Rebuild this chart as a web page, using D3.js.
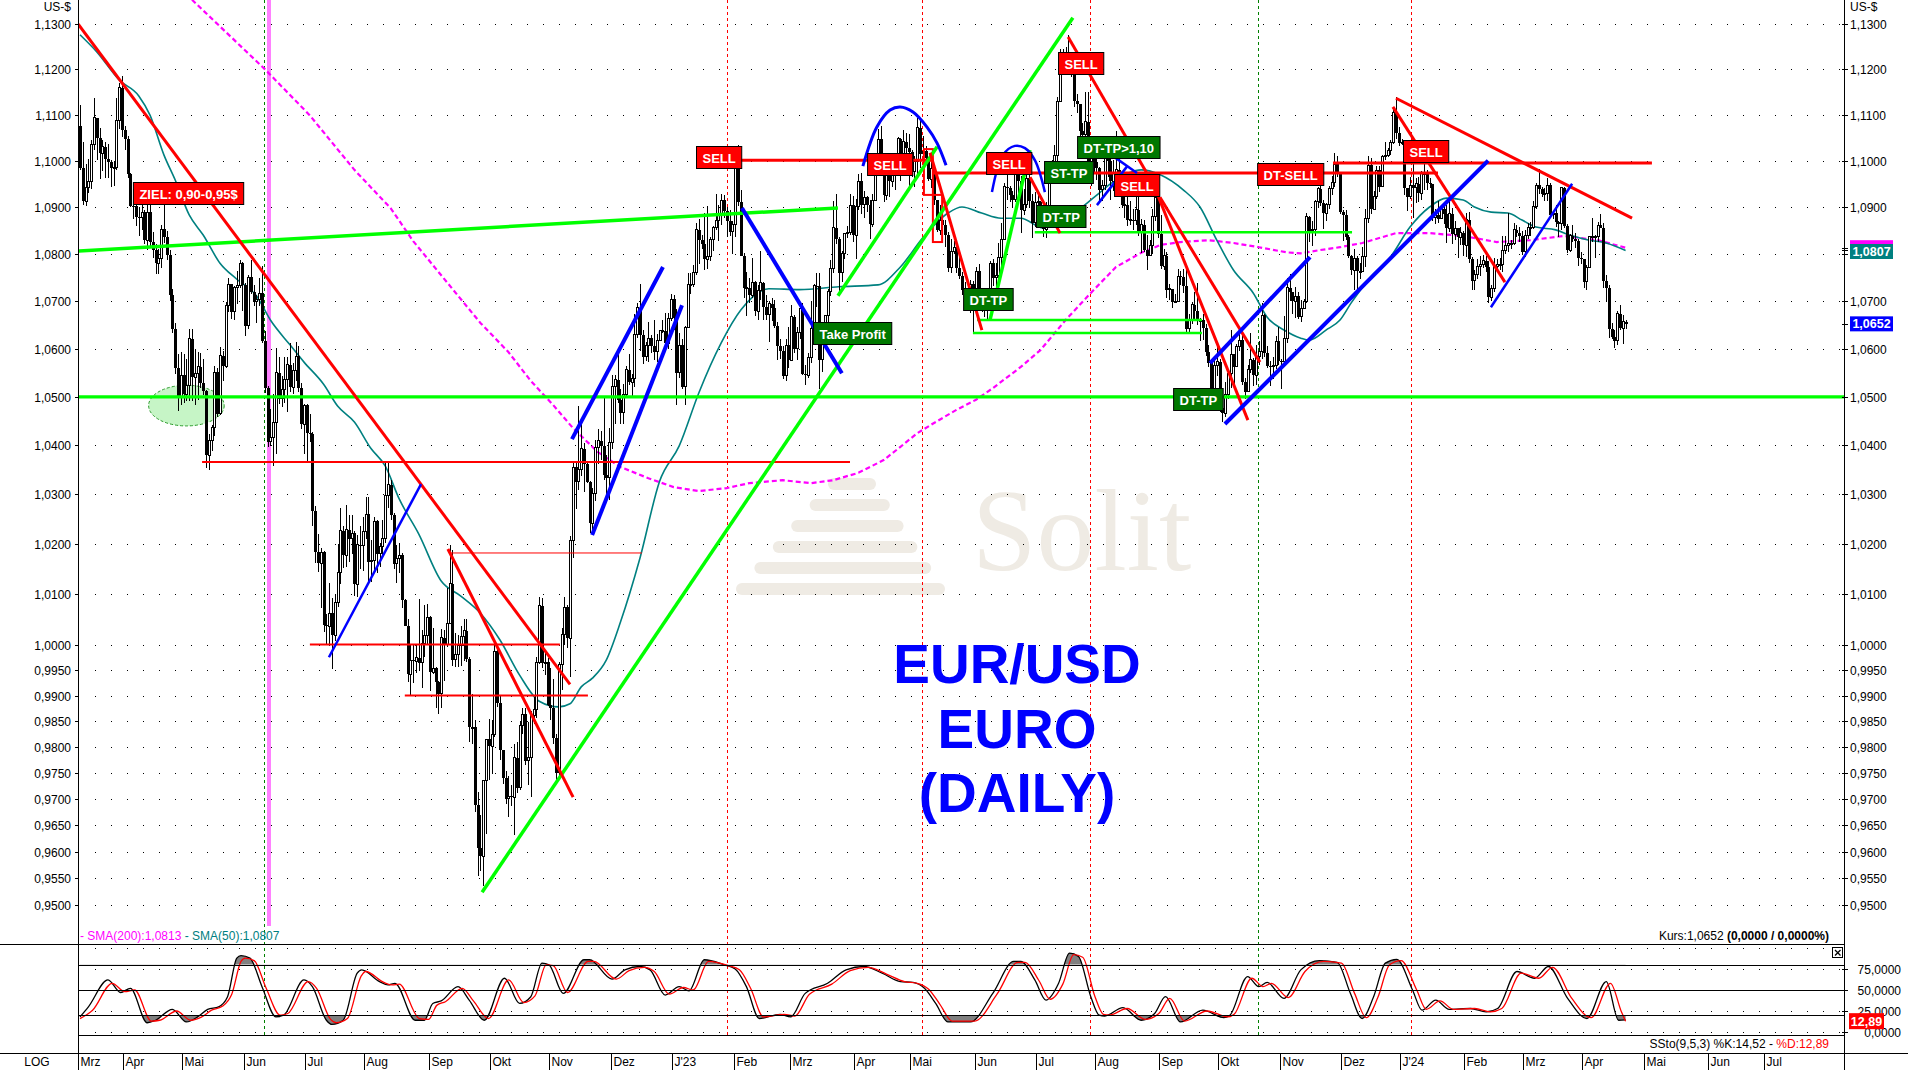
<!DOCTYPE html>
<html><head><meta charset="utf-8">
<script src="https://cdn.jsdelivr.net/npm/d3@7"></script>
<style>
html,body{margin:0;padding:0;background:#fff;overflow:hidden;}
svg{display:block;font-family:"Liberation Sans",Arial,sans-serif;}
</style></head><body>
<svg id="c" width="1908" height="1070"></svg>
<script>
// ---------------- DATA ----------------
// trading-day index 0 = 10 Mar 2022; prices in 1/10000 US-$
const firstOpen = 11075;
const closePips = [
10983,10912,10943,10955,11034,11093,11050,11016,11030,11003,10997,10984,10985,11087,11159,11067,
11046,10972,10903,10902,10878,10877,10889,10829,10889,10825,10808,10780,10790,10852,10836,10798,10713,10641,10560,10498,10545,
10505,10523,10621,10541,10548,10562,10529,10512,10380,10410,10436,10551,10465,10585,10563,10690,10735,10677,10728,10733,10780,10734,
10648,10750,10720,10698,10704,10716,10616,10518,10408,10417,10447,10550,10496,10515,10536,10567,10520,10554,10584,10519,10443,10483,
10426,10424,10266,10183,10161,10183,10038,10036,10062,10018,10084,10143,10227,10177,10229,10211,10222,10119,10199,10197,10225,
10260,10164,10167,10246,10180,10196,10212,10297,10320,10259,10160,10170,10177,10088,10037,9942,9969,9967,9974,9964,10002,10017,10054,
9946,9953,9927,9904,10013,10000,10042,10120,9970,9980,9998,10015,10027,9971,9838,9838,9689,9607,9592,9736,9815,9802,
9825,9987,9885,9794,9740,9701,9706,9704,9780,9722,9842,9864,9774,9780,9861,9873,9965,10077,9963,9965,9881,
9876,9818,9751,9961,10020,10074,10012,10208,10355,10326,10350,10393,10362,10325,10242,10302,10396,10410,10399,10339,10334,10406,
10522,10535,10493,10467,10505,10556,10530,10538,10630,10686,10628,10583,10606,10622,10605,10594,10617,10638,10638,10611,10663,10704,
10665,10550,10607,10521,10644,10734,10734,10760,10851,10830,10821,10788,10794,10830,10857,10870,10885,10915,10891,10869,10847,10863,
10990,10911,10796,10727,10728,10712,10740,10678,10723,10739,10688,10671,10694,10686,10648,10605,10595,10544,10607,10576,
10667,10600,10634,10684,10547,10545,10581,10642,10732,10731,10577,10610,10670,10720,10768,10855,10832,10760,10800,10844,10845,10904,10840,
10901,10955,10905,10921,10905,10863,10913,10993,11046,10990,10925,10973,10955,10967,10990,11047,10973,11041,11027,11018,
10977,10999,11071,11015,11020,11006,10960,10982,10914,10850,10872,10862,10840,10770,10805,10814,10770,10752,10724,10722,10705,10735,10689,
10763,10708,10713,10693,10698,10780,10749,10753,10792,10830,10944,10940,10925,10916,10979,10955,10893,10905,10962,10912,10866,10909,
10911,10881,10852,10888,10968,10998,11011,11129,11225,11229,11235,11227,11201,11129,11124,11065,11056,11085,10978,11016,10996,
10985,10937,10946,11007,11000,10955,10972,10980,10948,10905,10905,10873,10873,10870,10894,10845,10862,10809,10796,10817,10880,10921,10842,
10774,10796,10724,10726,10698,10700,10752,10751,10732,10642,10660,10692,10678,10660,10660,10644,10594,10571,10500,10565,10573,
10477,10466,10505,10548,10588,10562,10604,10618,10530,10510,10557,10577,10545,10584,10594,10670,10590,10564,10562,10565,10616,10575,
10573,10621,10728,10720,10699,10710,10667,10685,10700,10879,10849,10852,10912,10939,10909,10887,10905,10940,10953,10992,10970,10889,
10883,10836,10795,10765,10790,10763,10763,10794,10875,10990,10895,10922,10979,10944,11008,11012,11023,11040,11105,11060,11038,
11040,10940,10922,10947,10941,10950,10930,10972,10973,10951,10950,10877,10883,10875,10896,10886,10854,10885,10842,10854,10835,10845,10818,
10873,10788,10743,10755,10773,10777,10785,10772,10708,10727,10773,10777,10778,10807,10818,10822,10822,10851,10845,10838,10804,
10838,10855,10856,10900,10947,10938,10927,10928,10947,10883,10887,10867,10864,10941,10859,10808,10838,10831,10828,10790,10788,
10741,10770,10836,10836,10837,10861,10855,10742,10727,10642,10625,10617,10673,10643,10656,10652];
const highPips = [
11121,11041,10993,11003,11045,11137,11076,11070,11044,11041,11035,11001,11000,11137,11170,11185,
11076,11053,10974,10938,10922,10900,10917,10894,10904,10923,10846,10820,10811,10862,10937,10849,10808,10725,10654,10589,10593,
10588,10578,10642,10642,10599,10594,10592,10579,10515,10423,10441,10564,10559,10603,10596,10697,10748,10736,10731,10764,10787,10783,
10737,10755,10786,10733,10713,10748,10773,10638,10523,10474,10506,10601,10582,10543,10583,10582,10612,10570,10615,10606,10528,10486,
10485,10464,10427,10276,10221,10191,10186,10060,10122,10092,10100,10201,10273,10237,10278,10258,10259,10226,10218,10236,10254,
10294,10294,10209,10254,10248,10203,10248,10368,10365,10330,10262,10199,10202,10182,10091,10050,9999,10001,10000,10091,10028,10078,10080,
10057,10033,9955,9929,10030,10029,10112,10198,10187,10022,10018,10036,10051,10050,9976,9904,9853,9713,9670,9737,9815,9854,
9852,9999,10000,9900,9795,9755,9745,9727,9807,9809,9850,9876,9875,9849,9870,9897,9975,10094,10093,9984,9974,
9954,9932,9826,9966,10033,10094,10078,10216,10364,10364,10481,10454,10405,10367,10328,10314,10411,10434,10429,10497,10381,10436,
10546,10545,10594,10517,10527,10564,10588,10547,10673,10695,10736,10640,10613,10656,10629,10660,10630,10640,10660,10674,10674,10714,
10712,10683,10633,10620,10647,10760,10760,10777,10866,10874,10840,10887,10903,10835,10859,10927,10905,10929,10926,10900,10893,10870,
10993,11033,10936,10801,10761,10749,10791,10743,10734,10805,10741,10713,10700,10707,10702,10655,10621,10605,10621,10646,
10692,10671,10645,10694,10696,10567,10591,10699,10736,10760,10759,10635,10670,10726,10787,10912,10929,10836,10806,10845,10860,10927,10923,
10917,10972,10973,10934,10923,10914,10927,10998,11068,11075,10999,10980,10995,10977,10995,11052,11050,11066,11060,11057,
11022,11010,11092,11091,11054,11031,11006,11010,10990,10916,10904,10895,10872,10846,10831,10827,10818,10796,10761,10741,10726,10744,10742,
10772,10779,10723,10710,10718,10785,10788,10780,10823,10865,10951,10970,10945,10934,10999,11012,10966,10938,10976,10974,10927,10932,
10935,10913,10903,10911,10976,11001,11034,11139,11245,11244,11248,11276,11229,11206,11146,11112,11081,11150,11149,11043,11043,
11008,10987,10959,11042,11017,11003,11002,11065,11011,10950,10939,10930,10912,10895,10928,10929,10875,10872,10840,10830,10895,10945,10922,
10882,10811,10803,10735,10723,10715,10767,10763,10768,10768,10672,10697,10718,10737,10665,10673,10652,10608,10574,10585,10609,
10578,10487,10531,10548,10639,10582,10610,10640,10637,10540,10566,10632,10580,10608,10616,10695,10673,10606,10574,10583,10627,10646,
10578,10669,10748,10757,10720,10730,10719,10703,10705,10888,10880,10870,10916,10944,10962,10915,10909,10945,10966,11017,11009,10975,
10893,10894,10840,10797,10811,10795,10780,10814,10895,11009,11005,10935,10989,10988,11013,11040,11028,11044,11113,11139,11072,
11046,11045,10939,10964,10998,10963,10964,10978,11006,10980,10963,10950,10895,10913,10904,10903,10905,10931,10898,10871,10855,10857,10848,
10887,10889,10793,10765,10789,10795,10798,10795,10785,10734,10790,10788,10790,10838,10838,10888,10830,10866,10861,10857,10848,
10850,10866,10868,10913,10951,10981,10943,10940,10963,10952,10892,10905,10869,10942,10942,10863,10842,10862,10845,10831,10803,
10789,10777,10838,10876,10841,10868,10885,10865,10755,10734,10653,10639,10678,10691,10671,10660];
const lowPips = [
10980,10905,10903,10931,10938,11024,11001,10961,10978,10963,10962,10944,10945,10980,11068,11052,
11024,10963,10899,10875,10860,10838,10850,10820,10808,10816,10790,10757,10757,10770,10823,10787,10701,10632,10548,10471,10484,
10488,10492,10491,10492,10484,10493,10518,10503,10354,10350,10389,10420,10459,10463,10533,10560,10676,10662,10660,10694,10727,10680,
10627,10642,10715,10689,10654,10689,10612,10507,10397,10398,10358,10382,10486,10479,10488,10469,10510,10505,10533,10510,10434,10383,
10366,10408,10236,10162,10143,10072,10025,9999,9998,9952,10007,10075,10119,10152,10153,10164,10180,10097,10095,10150,10145,
10211,10123,10123,10148,10142,10154,10172,10202,10272,10249,10150,10122,10142,10072,10036,9927,9899,9925,9945,9949,9914,9975,10002,
9909,9943,9876,9864,9876,9929,9995,10052,9958,9955,9956,9958,9968,9965,9810,9807,9675,9554,9564,9536,9633,9737,
9748,9819,9877,9775,9730,9690,9667,9688,9631,9712,9718,9826,9765,9727,9705,9844,9857,9961,9953,9941,9880,
9853,9806,9730,9744,9910,10000,9993,9936,10171,10271,10310,10337,10306,10324,10223,10223,10287,10361,10371,10330,10290,10289,
10392,10444,10488,10443,10444,10500,10525,10497,10521,10622,10595,10568,10574,10573,10590,10577,10572,10625,10633,10610,10600,10657,
10640,10483,10540,10516,10484,10644,10715,10729,10754,10778,10811,10765,10768,10784,10805,10851,10827,10862,10877,10835,10837,10800,
10835,10903,10795,10706,10669,10696,10706,10668,10661,10702,10660,10660,10613,10659,10643,10577,10578,10536,10533,10560,
10575,10590,10577,10621,10546,10524,10539,10570,10659,10687,10516,10551,10608,10636,10710,10760,10820,10714,10741,10789,10833,10839,10826,
10788,10893,10886,10877,10889,10831,10858,10913,10993,10969,10910,10916,10922,10944,10936,10982,10957,10966,10998,10946,
10965,10944,10970,10985,10967,10995,10955,10940,10904,10846,10840,10851,10814,10761,10760,10800,10759,10747,10712,10700,10714,10674,10635,
10684,10694,10676,10667,10663,10690,10732,10724,10747,10771,10832,10915,10911,10897,10910,10930,10844,10883,10897,10898,10834,10857,
10888,10866,10835,10833,10883,10955,10962,10991,11128,11197,11199,11211,11182,11117,11104,11024,11041,11046,10976,10945,10970,
10959,10913,10912,10937,10965,10914,10935,10961,10927,10897,10876,10860,10862,10851,10861,10838,10802,10804,10765,10802,10800,10869,10834,
10767,10765,10707,10703,10686,10697,10713,10733,10716,10632,10632,10652,10660,10650,10617,10618,10585,10561,10488,10495,10544,
10469,10448,10459,10496,10518,10516,10563,10595,10524,10496,10525,10550,10523,10524,10567,10578,10582,10560,10522,10536,10557,10565,
10517,10568,10612,10700,10672,10665,10662,10655,10686,10695,10826,10817,10837,10897,10903,10852,10870,10896,10925,10943,10965,10885,
10827,10830,10790,10754,10724,10724,10747,10766,10771,10865,10885,10902,10918,10933,10942,11002,11007,11012,11035,11046,11032,
11034,10925,10892,10918,10876,10909,10911,10916,10937,10937,10940,10869,10863,10865,10874,10863,10822,10847,10821,10829,10792,10819,10795,
10793,10781,10723,10723,10746,10752,10770,10762,10695,10699,10718,10762,10765,10761,10799,10804,10810,10818,10835,10825,10797,
10793,10832,10838,10853,10895,10928,10921,10912,10912,10880,10875,10857,10836,10850,10854,10801,10803,10826,10812,10775,10778,
10728,10724,10769,10826,10792,10826,10854,10728,10698,10622,10620,10601,10608,10639,10610,10642];

// month axis: label and trading-day index of first day
const monthNames = ["Mrz","Apr","Mai","Jun","Jul","Aug","Sep","Okt","Nov","Dez","J'23","Feb","Mrz","Apr","Mai","Jun","Jul","Aug","Sep","Okt","Nov","Dez","J'24","Feb","Mrz","Apr","Mai","Jun","Jul"];
const monthStart = [0,16,37,59,81,102,125,147,168,190,212,234,254,277,297,320,342,363,386,407,429,451,472,495,516,537,559,582,602];

// price axis ticks
const priceTicks = [0.95,0.955,0.96,0.965,0.97,0.975,0.98,0.985,0.99,0.995,1.0,1.01,1.02,1.03,1.04,1.05,1.06,1.07,1.08,1.09,1.10,1.11,1.12,1.13];
const stochTicks = [0,25,50,75];
const stochLevels = [80,50,20];

// moving averages: [day index, price]
const sma50 = [[0,1.1276],[6,1.1238],[14,1.1176],[21,1.1141],[25,1.1099],[30,1.1012],[34,1.0958],[39,1.0883],[44,1.0840],[50,1.0780],[56,1.0746],[63,1.0711],[68,1.0660],[75,1.0608],[80,1.0572],[87,1.0526],[92,1.0481],[98,1.0448],[104,1.0393],[109,1.0358],[114,1.0291],[121,1.0220],[129,1.0126],[136,1.0096],[143,1.0062],[150,1.0009],[157,0.9940],[164,0.9889],[171,0.9878],[175,0.9884],[179,0.9917],[183,0.9934],[188,0.9970],[193,1.0044],[200,1.0172],[207,1.0327],[214,1.0399],[221,1.0508],[229,1.0612],[236,1.0681],[246,1.0726],[257,1.0724],[271,1.0730],[285,1.0734],[293,1.0772],[301,1.0834],[310,1.0887],[315,1.0900],[322,1.0887],[329,1.0876],[336,1.0876],[344,1.0855],[351,1.0870],[358,1.0900],[364,1.0930],[369,1.0954],[379,1.0980],[386,1.0969],[394,1.0937],[400,1.0900],[406,1.0829],[412,1.0765],[419,1.0717],[424,1.0666],[430,1.0639],[436,1.0622],[439,1.0618],[445,1.0639],[450,1.0660],[454,1.0696],[461,1.0751],[468,1.0793],[475,1.0857],[482,1.0900],[488,1.0919],[494,1.0915],[498,1.0900],[504,1.0889],[510,1.0887],[515,1.0872],[520,1.0857],[527,1.0851],[532,1.0840],[539,1.0829],[545,1.0823],[552,1.0807]];
const sma200 = [[40,1.1354],[66,1.1200],[82,1.1099],[98,1.0980],[111,1.0897],[119,1.0827],[131,1.0740],[143,1.0654],[153,1.0593],[161,1.0533],[169,1.0483],[176,1.0436],[185,1.0386],[193,1.0356],[203,1.0333],[212,1.0315],[221,1.0307],[231,1.0313],[239,1.0323],[251,1.0329],[261,1.0323],[269,1.0329],[278,1.0344],[287,1.0370],[293,1.0397],[299,1.0425],[305,1.0446],[313,1.0473],[320,1.0494],[326,1.0518],[336,1.0562],[343,1.0597],[352,1.0660],[361,1.0717],[370,1.0772],[379,1.0802],[386,1.0819],[393,1.0825],[403,1.0829],[412,1.0823],[421,1.0814],[431,1.0803],[436,1.0801],[443,1.0808],[450,1.0814],[458,1.0823],[470,1.0844],[482,1.0844],[494,1.0838],[506,1.0825],[518,1.0829],[530,1.0838],[542,1.0829],[552,1.0813]];

// slow stochastic (9,5,3): [day index, value]
const stochK = [[0,18],[3,30],[10,62],[14.5,47],[18,52],[24,11],[27,14],[33,27],[38,12],[42,18],[45.6,27],[49.5,30],[52.7,42],[56,88],[57.5,91],[60.7,88],[65,54],[70,18],[72.7,20],[80,62],[83,54],[88,14],[90,9],[94,14],[99,70],[100.6,74],[107,60],[110,56],[112.5,58],[119.7,14],[123,14],[126,34],[129,37],[135,54],[139,38],[144.4,14],[151.6,64],[157,34],[161,42],[165,82],[167.5,80],[172.6,46],[180,86],[182,86],[190,63],[194.6,74],[200,78],[203.6,74],[209,44],[214,54],[217.5,49],[223,86],[230,80],[234,75],[238,54],[242.6,16],[250,21],[253.8,18],[259,46],[267,58],[273.6,74],[280,78],[286.5,70],[293,60],[297.5,59],[301.6,52],[305.6,34],[310,12],[318,12],[326,46],[333.5,84],[336,84],[341,62],[345,38],[349.5,58],[353.4,94],[356.6,90],[361,42],[364,20],[366,19],[372.5,29],[379,14],[383.8,22],[387.7,42],[393,12],[401,26],[408.5,17],[410.7,20],[417,66],[421,54],[424,59],[430,40],[436,74],[442.7,85],[449,83],[453.7,46],[457.9,16],[462,42],[466.2,82],[470.3,86.5],[475.9,50],[479.3,26],[484.2,38],[489,27],[496.6,28],[502.2,24],[506.3,28],[513.2,72],[519.5,64],[524.4,78],[531.3,40],[538.2,16],[545.1,60],[549.5,14],[552,14.52]];
const stochD = [[0,16],[4.5,26],[11.5,58],[16,48],[19.5,50],[25.5,13],[28.5,14],[34.5,25],[39.5,14],[43.5,18],[47,26],[51,31],[54.2,45],[57.5,84],[59,88],[62.2,85],[66.5,52],[71.5,20],[74.2,22],[81.5,60],[84.5,52],[89.5,15],[91.5,11],[95.5,16],[100.5,67],[102,72],[108.5,59],[111.5,56],[114,57],[121.2,16],[124.5,15],[127.5,32],[130.5,36],[136.5,52],[140.5,37],[145.9,16],[153.1,62],[158.5,35],[162.5,43],[166.5,80],[169,79],[174.1,47],[181.5,84],[183.5,84],[191.5,63],[196.1,73],[201.5,77],[205.1,72],[210.5,45],[215.5,53],[219,50],[224.5,84],[231.5,79],[235.5,74],[239.5,52],[244.1,18],[251.5,21],[255.3,19],[260.5,45],[268.5,57],[275.1,73],[281.5,77],[288,69],[294.5,60],[299,58],[303.1,51],[307.1,33],[311.5,13],[319.5,13],[327.5,45],[335,83],[337.5,83],[342.5,61],[346.5,39],[351,57],[354.9,92],[358.1,89],[362.5,42],[365.5,21],[367.5,20],[374,28],[380.5,15],[385.3,22],[389.2,40],[394.5,13],[402.5,25],[410,18],[412.2,21],[418.5,64],[422.5,54],[425.5,58],[431.5,41],[437.5,72],[444.2,84],[450.5,82],[455.2,46],[459.4,17],[463.5,41],[467.7,80],[471.8,85],[477.4,50],[480.8,27],[485.7,37],[490.5,27],[498.1,28],[503.7,24],[507.8,28],[514.7,70],[521,64],[525.9,77],[532.8,40],[539.7,17],[546.6,58],[550.5,24],[552,12.89]];

// analyst drawings, in chart units [dayIndex, price]
const redTrendlines = [[-0.7,1.1300,175,0.9922],[131.4,1.0190,176.1,0.9704],[303.6,1.1017,322.1,1.0639],[339.3,1.0964,350,1.0844],[352.9,1.1271,381.4,1.0969],[384.6,1.0930,417.1,1.0452],[385.7,1.0921,421.4,1.0572],[470,1.1136,554.3,1.0876],[468.9,1.1117,508.9,1.0740]];
const redLevels = [[236.1,304.6,1.1001],[304.6,485,1.0973],[447.5,561.4,1.0995]];
const redThinLevels = [[43.6,275,1.0366],[82.1,171.4,1.0000],[116,181.4,0.9900]];
const redHairLevels = [[132,200.7,1.0182]];
const redBoxes = [[301.4,304.6,1.1025,1.0926],[304.6,307.9,1.0926,1.0825]];
const greenTrendlines = [[-0.7,1.0806,270.7,1.0898],[143.6,0.9524,354.6,1.1314],[270.7,1.0711,306.1,1.1030],[325,1.0660,339.3,1.1023]];
const greenLevels = [[320.4,400.7,1.0660],[318.9,400.7,1.0633],[341,454.3,1.0846]];
const supportLevel = 1.05;
const blueThick = [[175.7,1.0413,208.2,1.0772],[182.9,1.0218,215,1.0691],[236.4,1.0898,272.1,1.0549],[403.6,1.0570,439.3,1.0793],[408.9,1.0444,502.9,1.1000]];
const blueThin = [[88.9,0.9975,121.8,1.0321],[360.7,1.1045,377.5,1.0973],[363.2,1.0904,373.9,1.0987],[503.9,1.0687,532.9,1.0950]];
const blueArcs = [
  [[279.6,1.0988],[284.6,1.1073],[289.3,1.1110],[292.9,1.1117],[297.5,1.1106],[302.5,1.1073],[306.1,1.1038],[309.3,1.0990]],
  [[325.7,1.0932],[329.6,1.1012],[333.9,1.1032],[337.5,1.1027],[341.1,1.1000],[344.6,1.0932]]
];
const supportZone = {i:38, p:1.0483, halfDays:13.5, pTop:1.0524, pBottom:1.0440};
const redMarkers = [231.1,300.7,360.7,475.4];
const greenMarkers = [65.7,420.7];
const magentaMarker = 67.5;

// signal boxes: [text, day index of left edge, price of top edge]
const sellSignals = [["ZIEL: 0,90-0,95$",18.9,1.0954],["SELL",220,1.1032],["SELL",281.1,1.1017],["SELL",323.6,1.1019],["SELL",349.3,1.1238],["SELL",369.3,1.0971],["DT-SELL",420.4,1.0995],["SELL",472.5,1.1045]];
const profitSignals = [["Take Profit",261.8,1.0656],["DT-TP",315.4,1.0728],["DT-TP",341.4,1.0904],["ST-TP",344.3,1.0999],["DT-TP>1,10",356.1,1.1053],["DT-TP",390.4,1.0518]];

const lastClose = 1.0652, lastSma200 = 1.0813, lastSma50 = 1.0807, lastK = 14.52, lastD = 12.89;
const titleLines = ["EUR/USD","EURO","(DAILY)"];

// ---------------- DRAW ----------------
const svg = d3.select("#c");
const AXL = 78.5, AXR = 1844.5, PBOT = 944.5, SBOT = 1035.5, XBOT = 1053.5;
const x = d3.scaleLinear().domain([0,602]).range([80,80+602*2.8]);
const y = d3.scaleLog().domain([0.95,1.13]).range([905,24]);
const sy = d3.scaleLinear().domain([0,100]).range([1032,948]);
const fmt4 = v => d3.format(".4f")(v).replace(".",",");
const fmt2 = v => d3.format(".2f")(v).replace(".",",");

const defs = svg.append("defs");
defs.append("clipPath").attr("id","pclip").append("rect").attr("x",79).attr("y",0).attr("width",AXR-79).attr("height",PBOT);
defs.append("clipPath").attr("id","sclip").append("rect").attr("x",79).attr("y",PBOT+0.5).attr("width",AXR-79).attr("height",SBOT-PBOT);

svg.append("rect").attr("width",1908).attr("height",1070).attr("fill","#fff");

// watermark
const wm = svg.append("g").attr("fill","#efebe4");
for (let k=0;k<6;k++){
  const t=k/5, yy=478+k*21, xl=828-(828-736)*t, xr=876+(945-876)*t;
  wm.append("rect").attr("x",xl).attr("y",yy).attr("width",xr-xl).attr("height",12).attr("rx",6);
}
wm.append("text").attr("x",972).attr("y",570).attr("font-family","'Liberation Serif','DejaVu Serif',serif")
  .attr("font-size",116).text("Solit");

// dotted grids
const grid = svg.append("g").attr("stroke","#000").attr("stroke-width",1).attr("stroke-dasharray","1 15").attr("shape-rendering","crispEdges");
priceTicks.forEach(p=>{ const yy=Math.round(y(p))+0.5; grid.append("line").attr("x1",95).attr("x2",AXR-2).attr("y1",yy).attr("y2",yy); });
[100,75,25,0].forEach(v=>{ const yy=Math.round(sy(v))+0.5; grid.append("line").attr("x1",95).attr("x2",AXR-2).attr("y1",yy).attr("y2",yy); });

// vertical markers
const vm = svg.append("g").attr("shape-rendering","crispEdges");
redMarkers.forEach(i=>{ const xx=Math.round(x(i))+0.5; vm.append("line").attr("x1",xx).attr("x2",xx).attr("y1",0).attr("y2",SBOT).attr("stroke","#ff0000").attr("stroke-dasharray","3 3"); });
greenMarkers.forEach(i=>{ const xx=Math.round(x(i))+0.5; vm.append("line").attr("x1",xx).attr("x2",xx).attr("y1",0).attr("y2",SBOT).attr("stroke","#008000").attr("stroke-dasharray","3 3"); });
vm.append("line").attr("x1",x(magentaMarker)).attr("x2",x(magentaMarker)).attr("y1",0).attr("y2",926).attr("stroke","#ff80ff").attr("stroke-width",4);

const P = svg.append("g").attr("clip-path","url(#pclip)");

// support zone ellipse
P.append("ellipse").attr("cx",x(supportZone.i)).attr("cy",(y(supportZone.pTop)+y(supportZone.pBottom))/2)
  .attr("rx",x(supportZone.i+supportZone.halfDays)-x(supportZone.i)).attr("ry",(y(supportZone.pBottom)-y(supportZone.pTop))/2)
  .attr("fill","#c6f5c6").attr("stroke","#2a9a2a").attr("stroke-dasharray","3 2");

// moving averages
const ln = d3.line().x(d=>x(d[0])).y(d=>y(d[1]));
P.append("path").attr("d",ln(sma200)).attr("fill","none").attr("stroke","#ff00ff").attr("stroke-width",2.2).attr("stroke-dasharray","5 3");
P.append("path").attr("d",ln.curve(d3.curveMonotoneX)(sma50)).attr("fill","none").attr("stroke","#008080").attr("stroke-width",1.6);

// candles
const candles = closePips.map((c,i)=>({i, o:(i===0?firstOpen:closePips[i-1])/1e4, c:c/1e4, h:highPips[i]/1e4, l:lowPips[i]/1e4}));
const cg = P.append("g").attr("shape-rendering","crispEdges");
cg.selectAll("line").data(candles).join("line")
  .attr("x1",d=>Math.round(x(d.i))+0.5).attr("x2",d=>Math.round(x(d.i))+0.5)
  .attr("y1",d=>y(Math.max(d.h,d.o,d.c))).attr("y2",d=>y(Math.min(d.l,d.o,d.c)))
  .attr("stroke","#000").attr("stroke-width",1);
cg.selectAll("rect").data(candles).join("rect")
  .attr("x",d=>d.c>=d.o? Math.round(x(d.i))-0.5 : Math.round(x(d.i))-1)
  .attr("width",d=>d.c>=d.o?2:3)
  .attr("y",d=>Math.min(y(d.o),y(d.c)))
  .attr("height",d=>Math.max(1,Math.abs(y(d.o)-y(d.c))))
  .attr("fill",d=>d.c>=d.o?"#fff":"#000")
  .attr("stroke",d=>d.c>=d.o?"#000":"none").attr("stroke-width",1);

// drawings
const seg = (g,arr,col,w)=>arr.forEach(s=>g.append("line").attr("x1",x(s[0])).attr("y1",y(s[1])).attr("x2",x(s[2])).attr("y2",y(s[3])).attr("stroke",col).attr("stroke-width",w));
const lvl = (g,arr,col,w)=>arr.forEach(s=>g.append("line").attr("x1",x(s[0])).attr("x2",x(s[1])).attr("y1",y(s[2])).attr("y2",y(s[2])).attr("stroke",col).attr("stroke-width",w));
const D = P.append("g");
D.append("line").attr("x1",AXL).attr("x2",AXR).attr("y1",y(supportLevel)).attr("y2",y(supportLevel)).attr("stroke","#00ff00").attr("stroke-width",3.2);
lvl(D,redThinLevels,"#ff0000",2);
lvl(D,redHairLevels,"#ff0000",1);
lvl(D,greenLevels,"#00ff00",2.5);
redBoxes.forEach(b=>D.append("rect").attr("x",x(b[0])).attr("width",x(b[1])-x(b[0])).attr("y",y(b[2])).attr("height",y(b[3])-y(b[2])).attr("fill","none").attr("stroke","#ff0000").attr("stroke-width",2));
lvl(D,redLevels,"#ff0000",3);
seg(D,greenTrendlines,"#00ff00",3.5);
seg(D,redTrendlines,"#ff0000",3);
seg(D,blueThin,"#0000ff",2.5);
seg(D,blueThick,"#0000ff",4);
const arcLine = d3.line().x(d=>x(d[0])).y(d=>y(d[1])).curve(d3.curveCatmullRom);
blueArcs.forEach((a,k)=>D.append("path").attr("d",arcLine(a)).attr("fill","none").attr("stroke","#0000ff").attr("stroke-width",k===0?3:2.5));

// signal boxes
const L = P.append("g").attr("font-weight","bold").attr("font-size",13);
function box(list, fill){
  list.forEach(s=>{
    const g = L.append("g");
    const r = g.append("rect").attr("x",x(s[1])+0.5).attr("y",Math.round(y(s[2]))+0.5).attr("height",22).attr("fill",fill).attr("stroke","#000").attr("stroke-width",1);
    const t = g.append("text").attr("y",Math.round(y(s[2]))+16.5).attr("fill","#fff").attr("text-anchor","middle").text(s[0]);
    const w = t.node().getComputedTextLength()+12;
    r.attr("width",w);
    t.attr("x",x(s[1])+0.5+w/2);
  });
}
box(sellSignals,"#ff0000");
box(profitSignals,"#007800");

// title
const T = svg.append("g").attr("font-weight","bold").attr("font-size",55).attr("fill","#0000ff").attr("text-anchor","middle");
titleLines.forEach((t,k)=>T.append("text").attr("x",1017).attr("y",683+k*64.5).text(t));

// stochastic panel
const S = svg.append("g").attr("clip-path","url(#sclip)");
const sline = d3.line().x(d=>x(d[0])).y(d=>sy(d[1])).curve(d3.curveMonotoneX);
defs.append("clipPath").attr("id","above80").append("rect").attr("x",0).attr("y",0).attr("width",1908).attr("height",sy(80));
defs.append("clipPath").attr("id","below20").append("rect").attr("x",0).attr("y",sy(20)).attr("width",1908).attr("height",200);
const aTop = d3.area().x(d=>x(d[0])).y0(sy(80)).y1(d=>sy(d[1])).curve(d3.curveMonotoneX);
const aBot = d3.area().x(d=>x(d[0])).y0(sy(20)).y1(d=>sy(d[1])).curve(d3.curveMonotoneX);
S.append("path").attr("d",aTop(stochK)).attr("fill","#808080").attr("clip-path","url(#above80)");
S.append("path").attr("d",aBot(stochK)).attr("fill","#808080").attr("clip-path","url(#below20)");
const lv = svg.append("g").attr("stroke","#000").attr("shape-rendering","crispEdges");
stochLevels.forEach(v=>{ const yy=Math.round(sy(v))+0.5; lv.append("line").attr("x1",AXL).attr("x2",AXR).attr("y1",yy).attr("y2",yy); });
S.append("path").attr("d",sline(stochK)).attr("fill","none").attr("stroke","#000").attr("stroke-width",1.3);
S.append("path").attr("d",sline(stochD)).attr("fill","none").attr("stroke","#ff0000").attr("stroke-width",1.3);

// frame lines
const F = svg.append("g").attr("stroke","#000").attr("shape-rendering","crispEdges");
F.append("line").attr("x1",AXL).attr("x2",AXL).attr("y1",0).attr("y2",1070);
F.append("line").attr("x1",AXR).attr("x2",AXR).attr("y1",0).attr("y2",1070);
F.append("line").attr("x1",0).attr("x2",AXR).attr("y1",PBOT).attr("y2",PBOT);
F.append("line").attr("x1",AXL).attr("x2",AXR).attr("y1",SBOT).attr("y2",SBOT);
F.append("line").attr("x1",0).attr("x2",1908).attr("y1",XBOT).attr("y2",XBOT);

// current value boxes on the right axis (they cover the tick label underneath)
const boxTop = y(lastSma200)-7.5, boxBottom = y(lastSma50)+8.5;
const covered = p => { const yy=y(p); return yy>boxTop-6 && yy<boxBottom+6; };

// price axes
const ax = svg.append("g").attr("font-size",12).attr("fill","#000");
priceTicks.forEach(p=>{
  const yy=Math.round(y(p))+0.5;
  F.append("line").attr("x1",AXL-4).attr("x2",AXL).attr("y1",yy).attr("y2",yy);
  F.append("line").attr("x1",AXR-3).attr("x2",AXR+3).attr("y1",yy).attr("y2",yy);
  ax.append("text").attr("x",71).attr("y",yy+4.5).attr("text-anchor","end").text(fmt4(p));
  if (!covered(p)) ax.append("text").attr("x",1850).attr("y",yy+4.5).text(fmt4(p));
});
ax.append("text").attr("x",71).attr("y",11).attr("text-anchor","end").text("US-$");
ax.append("text").attr("x",1850).attr("y",11).text("US-$");
[lastSma200,lastSma50,lastClose].forEach(p=>{ const yy=Math.round(y(p))+0.5; F.append("line").attr("x1",AXR-3).attr("x2",AXR+3).attr("y1",yy).attr("y2",yy); });

function valBox(yy, fill, h){
  svg.append("rect").attr("x",1850).attr("y",yy-h/2).attr("width",43).attr("height",h).attr("fill",fill);
}
valBox(y(lastSma200), "#ff00ff", 15);
valBox(y(lastSma50)+1, "#008080", 15);
svg.append("text").attr("x",1871.5).attr("y",y(lastSma50)+5.5).attr("text-anchor","middle").attr("fill","#fff").attr("font-weight","bold").attr("font-size",12.5).text(fmt4(lastSma50));
valBox(y(lastClose), "#0000ff", 15);
svg.append("text").attr("x",1871.5).attr("y",y(lastClose)+4.5).attr("text-anchor","middle").attr("fill","#fff").attr("font-weight","bold").attr("font-size",12.5).text(fmt4(lastClose));

// stochastic axis
stochTicks.forEach(v=>{
  const yy=sy(v);
  ax.append("text").attr("x",1901).attr("y",yy+4.5).attr("text-anchor","end").text(d3.format(".4f")(v).replace(".",","));
  F.append("line").attr("x1",AXR-3).attr("x2",AXR+3).attr("y1",Math.round(yy)+0.5).attr("y2",Math.round(yy)+0.5);
});
svg.append("rect").attr("x",1849).attr("y",sy(lastD)-8).attr("width",35).attr("height",16).attr("fill","#ff0000");
svg.append("text").attr("x",1866.5).attr("y",sy(lastD)+4.5).attr("text-anchor","middle").attr("fill","#fff").attr("font-weight","bold").attr("font-size",12.5).text(fmt2(lastD));

// month axis
monthStart.forEach((idx,k)=>{
  const xx = k===0 ? AXL : Math.round(x(idx)-1.5)+0.5;
  F.append("line").attr("x1",xx).attr("x2",xx).attr("y1",XBOT).attr("y2",1070);
  ax.append("text").attr("x",xx+2).attr("y",1066).text(monthNames[k]);
});
ax.append("text").attr("x",37).attr("y",1066).attr("text-anchor","middle").text("LOG");

// legends
const lg = svg.append("text").attr("x",80).attr("y",940).attr("font-size",12);
lg.append("tspan").attr("fill","#ff00ff").text("- SMA(200):"+fmt4(lastSma200));
lg.append("tspan").attr("fill","#008080").text(" - SMA(50):"+fmt4(lastSma50));
const kt = svg.append("text").attr("x",1829).attr("y",940).attr("font-size",12).attr("text-anchor","end").attr("fill","#000");
kt.append("tspan").text("Kurs:"+fmt4(lastClose)+" ");
kt.append("tspan").attr("font-weight","bold").text("(0,0000 / 0,0000%)");
const st = svg.append("text").attr("x",1829).attr("y",1048).attr("font-size",12).attr("text-anchor","end").attr("fill","#000");
st.append("tspan").text("SSto(9,5,3) %K:"+fmt2(lastK)+" - ");
st.append("tspan").attr("fill","#ff0000").text("%D:"+fmt2(lastD));

// close icon
const ci = svg.append("g").attr("stroke","#000").attr("fill","#fff").attr("shape-rendering","crispEdges");
ci.append("rect").attr("x",1832.5).attr("y",947.5).attr("width",10).attr("height",10);
ci.append("path").attr("d","M1835,950L1840.5,955.5M1840.5,950L1835,955.5").attr("stroke-width",1.3).attr("shape-rendering","auto");
</script></body></html>
